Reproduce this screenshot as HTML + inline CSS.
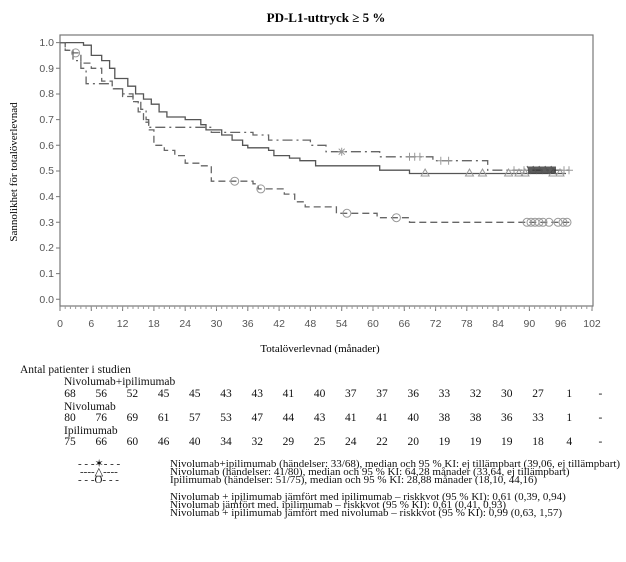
<!DOCTYPE html>
<html><head><meta charset="utf-8"><style>
body{margin:0;background:#fff;width:626px;height:562px;overflow:hidden;position:relative;font-family:"Liberation Serif",serif;}
.t{position:absolute;font-size:11.5px;line-height:12px;white-space:nowrap;color:#111;}
.l{position:absolute;font-size:11px;line-height:8px;white-space:nowrap;color:#111;}
.n{position:absolute;font-size:11.5px;line-height:12px;width:30px;text-align:center;margin-left:-15px;color:#111;}
</style></head><body>
<svg width="626" height="562" style="position:absolute;left:0;top:0" xmlns="http://www.w3.org/2000/svg">
<text x="326" y="22" text-anchor="middle" font-family="Liberation Serif,serif" font-weight="bold" font-size="13">PD-L1-uttryck ≥ 5 %</text>
<text transform="translate(17,172) rotate(-90)" text-anchor="middle" font-family="Liberation Serif,serif" font-size="11">Sannolikhet för totalöverlevnad</text>
<text x="320" y="352" text-anchor="middle" font-family="Liberation Serif,serif" font-size="11">Totalöverlevnad (månader)</text>
<rect x="60" y="35" width="533" height="271" fill="none" stroke="#777" stroke-width="1.2"/>
<g font-family="Liberation Sans,sans-serif" font-size="10.5" fill="#555" text-anchor="end">
<text x="54" y="46">1.0</text><text x="54" y="72">0.9</text><text x="54" y="97">0.8</text><text x="54" y="123">0.7</text><text x="54" y="149">0.6</text><text x="54" y="174">0.5</text><text x="54" y="200">0.4</text><text x="54" y="226">0.3</text><text x="54" y="251">0.2</text><text x="54" y="277">0.1</text><text x="54" y="303">0.0</text>
</g>
<g stroke="#777" stroke-width="1">
<path d="M56,42.6H60M56,68.3H60M56,94H60M56,119.6H60M56,145.3H60M56,171H60M56,196.6H60M56,222.3H60M56,248H60M56,273.6H60M56,299.3H60"/>
</g>
<g font-family="Liberation Sans,sans-serif" font-size="10.5" fill="#555" text-anchor="middle">
<text x="60" y="327">0</text><text x="91.3" y="327">6</text><text x="122.6" y="327">12</text><text x="153.9" y="327">18</text><text x="185.2" y="327">24</text><text x="216.5" y="327">30</text><text x="247.8" y="327">36</text><text x="279.1" y="327">42</text><text x="310.4" y="327">48</text><text x="341.7" y="327">54</text><text x="373" y="327">60</text><text x="404.3" y="327">66</text><text x="435.6" y="327">72</text><text x="466.8" y="327">78</text><text x="498.1" y="327">84</text><text x="529.4" y="327">90</text><text x="560.7" y="327">96</text><text x="592" y="327">102</text>
</g>
<path stroke="#777" stroke-width="1" d="M60,306v5M91.3,306v5M122.6,306v5M153.9,306v5M185.2,306v5M216.5,306v5M247.8,306v5M279.1,306v5M310.4,306v5M341.7,306v5M373,306v5M404.3,306v5M435.6,306v5M466.8,306v5M498.1,306v5M529.4,306v5M560.7,306v5M592,306v5"/>
<line x1="64.7" y1="307.5" x2="592" y2="307.5" stroke="#999" stroke-width="3" stroke-dasharray="1 4.216"/>
<g fill="none" stroke-width="1.3">
<path stroke="#555" d="M60,42.6 H83.5 V45.2 H91.3 V55.4 H101.7 V60.6 H109.6 V68.3 H114.8 V78.5 H127.8 V86.2 H135.6 V93.9 H143.5 V99.1 H151.3 V104.2 H159.1 V111.9 H166.9 V117 H185.2 V119.6 H200.8 V124.7 H206 V129.9 H221.7 V135 H232.1 V140.1 H242.6 V145.3 H247.8 V147.8 H268.6 V150.4 H273.9 V155.6 H289.5 V158.1 H299.9 V160.7 H315.6 V165.8 H379.7 V170.2 H409.5 V173.5 H566"/>
<path stroke="#666" stroke-dasharray="10 4 2 4" d="M60,42.6 H65.2 V50.3 H73 V60.6 H80.9 V68.3 H86.1 V83.7 H112.2 V88.8 H122.6 V93.9 H133 V101.6 H140.8 V109.3 H146.1 V119.6 H148.7 V127.3 H211.3 V132.4 H253 V135 H268.6 V140.1 H310.4 V145.3 H326 V151.7 H379.7 V156.8 H432.9 V160.7 H487.7 V170.2 H568.6"/>
<path stroke="#666" stroke-dasharray="7 4" d="M60,42.6 H65.2 V50.3 H70.4 V52.9 H80.9 V63.1 H91.3 V68.3 H101.7 V81.1 H112.2 V88.8 H122.6 V96.5 H133 V101.6 H138.2 V111.9 H143.5 V122.2 H148.7 V129.9 H153.9 V145.3 H164.3 V150.4 H174.8 V155.6 H185.2 V163.2 H200.8 V165.8 H211.3 V181.2 H253 V183.8 H258.2 V188.9 H284.3 V194.1 H294.7 V201.8 H305.2 V206.9 H336.4 V213.3 H377.1 V217.7 H409.5 V222.3 H571.2"/>
</g>
<g fill="none" stroke="#999" stroke-width="1">
<circle cx="75.6" cy="52.9" r="4"/><circle cx="234.7" cy="181.2" r="4"/><circle cx="260.8" cy="188.9" r="4"/><circle cx="346.9" cy="213.3" r="4"/><circle cx="396.4" cy="217.7" r="4"/>
<circle cx="527" cy="222.3" r="4"/><circle cx="531" cy="222.3" r="4"/><circle cx="535" cy="222.3" r="4"/><circle cx="539" cy="222.3" r="4"/><circle cx="543" cy="222.3" r="4"/><circle cx="549" cy="222.3" r="4"/><circle cx="558" cy="222.3" r="4"/><circle cx="563" cy="222.3" r="4"/><circle cx="567" cy="222.3" r="4"/>
<path d="M425.1,169l4,7h-8z M469.5,169l4,7h-8z M482.5,169l4,7h-8z M508.6,169l4,7h-8z M519,169l4,7h-8z M525,169l4,7h-8z M553,169l4,7h-8z M560,169l4,7h-8z"/>
<path d="M337.7,151.7h8M341.7,147.7v8M338.7,148.7l6,6M344.7,148.7l-6,6 M405.5,156.8h8M409.5,152.8v8 M410.7,156.8h8M414.7,152.8v8 M415.9,156.8h8M419.9,152.8v8 M436.8,160.7h8M440.8,156.7v8 M444.6,160.7h8M448.6,156.7v8 M510,170.2h8M514,166.2v8 M520,170.2h8M524,166.2v8 M560,170.2h8M564,166.2v8 M565,170.2h8M569,166.2v8"/>
</g>
<rect x="528" y="166.5" width="28" height="7" fill="#333" opacity="0.8"/>
<path d="M527,166l4,8M533,166l4,8M539,166l4,8M545,166l4,8M551,166l4,8" stroke="#555" stroke-width="1"/>
</svg>

<div class="t" style="left:20px;top:364px">Antal patienter i studien</div>
<div class="t" style="left:64px;top:376px">Nivolumab+ipilimumab</div>
<div class="t" style="left:64px;top:401px">Nivolumab</div>
<div class="t" style="left:64px;top:425px">Ipilimumab</div>

<div class="n" style="left:70px;top:388px">68</div><div class="n" style="left:101.2px;top:388px">56</div><div class="n" style="left:132.4px;top:388px">52</div><div class="n" style="left:163.6px;top:388px">45</div><div class="n" style="left:194.8px;top:388px">45</div><div class="n" style="left:226px;top:388px">43</div><div class="n" style="left:257.2px;top:388px">43</div><div class="n" style="left:288.4px;top:388px">41</div><div class="n" style="left:319.6px;top:388px">40</div><div class="n" style="left:350.8px;top:388px">37</div><div class="n" style="left:382px;top:388px">37</div><div class="n" style="left:413.2px;top:388px">36</div><div class="n" style="left:444.4px;top:388px">33</div><div class="n" style="left:475.6px;top:388px">32</div><div class="n" style="left:506.8px;top:388px">30</div><div class="n" style="left:538px;top:388px">27</div><div class="n" style="left:569.2px;top:388px">1</div><div class="n" style="left:600.4px;top:388px">-</div>

<div class="n" style="left:70px;top:412px">80</div><div class="n" style="left:101.2px;top:412px">76</div><div class="n" style="left:132.4px;top:412px">69</div><div class="n" style="left:163.6px;top:412px">61</div><div class="n" style="left:194.8px;top:412px">57</div><div class="n" style="left:226px;top:412px">53</div><div class="n" style="left:257.2px;top:412px">47</div><div class="n" style="left:288.4px;top:412px">44</div><div class="n" style="left:319.6px;top:412px">43</div><div class="n" style="left:350.8px;top:412px">41</div><div class="n" style="left:382px;top:412px">41</div><div class="n" style="left:413.2px;top:412px">40</div><div class="n" style="left:444.4px;top:412px">38</div><div class="n" style="left:475.6px;top:412px">38</div><div class="n" style="left:506.8px;top:412px">36</div><div class="n" style="left:538px;top:412px">33</div><div class="n" style="left:569.2px;top:412px">1</div><div class="n" style="left:600.4px;top:412px">-</div>

<div class="n" style="left:70px;top:436px">75</div><div class="n" style="left:101.2px;top:436px">66</div><div class="n" style="left:132.4px;top:436px">60</div><div class="n" style="left:163.6px;top:436px">46</div><div class="n" style="left:194.8px;top:436px">40</div><div class="n" style="left:226px;top:436px">34</div><div class="n" style="left:257.2px;top:436px">32</div><div class="n" style="left:288.4px;top:436px">29</div><div class="n" style="left:319.6px;top:436px">25</div><div class="n" style="left:350.8px;top:436px">24</div><div class="n" style="left:382px;top:436px">22</div><div class="n" style="left:413.2px;top:436px">20</div><div class="n" style="left:444.4px;top:436px">19</div><div class="n" style="left:475.6px;top:436px">19</div><div class="n" style="left:506.8px;top:436px">19</div><div class="n" style="left:538px;top:436px">18</div><div class="n" style="left:569.2px;top:436px">4</div><div class="n" style="left:600.4px;top:436px">-</div>

<div class="l" style="left:78px;top:460px">- - -✶- - -</div>
<div class="l" style="left:80px;top:468px">----△----</div>
<div class="l" style="left:78px;top:476px">- - -O- - -</div>
<div class="l" style="left:170px;top:460px">Nivolumab+ipilimumab (händelser: 33/68), median och 95 % KI: ej tillämpbart (39,06, ej tillämpbart)</div>
<div class="l" style="left:170px;top:468px">Nivolumab (händelser: 41/80), median och 95 % KI: 64,28 månader (33,64, ej tillämpbart)</div>
<div class="l" style="left:170px;top:476px">Ipilimumab (händelser: 51/75), median och 95 % KI: 28,88 månader (18,10, 44,16)</div>
<div class="l" style="left:170px;top:493px">Nivolumab + ipilimumab jämfört med ipilimumab – riskkvot (95 % KI): 0,61 (0,39, 0,94)</div>
<div class="l" style="left:170px;top:501px">Nivolumab jämfört med. ipilimumab – riskkvot (95 % KI): 0,61 (0,41, 0,93)</div>
<div class="l" style="left:170px;top:509px">Nivolumab + ipilimumab jämfört med nivolumab – riskkvot (95 % KI): 0,99 (0,63, 1,57)</div>
</body></html>
